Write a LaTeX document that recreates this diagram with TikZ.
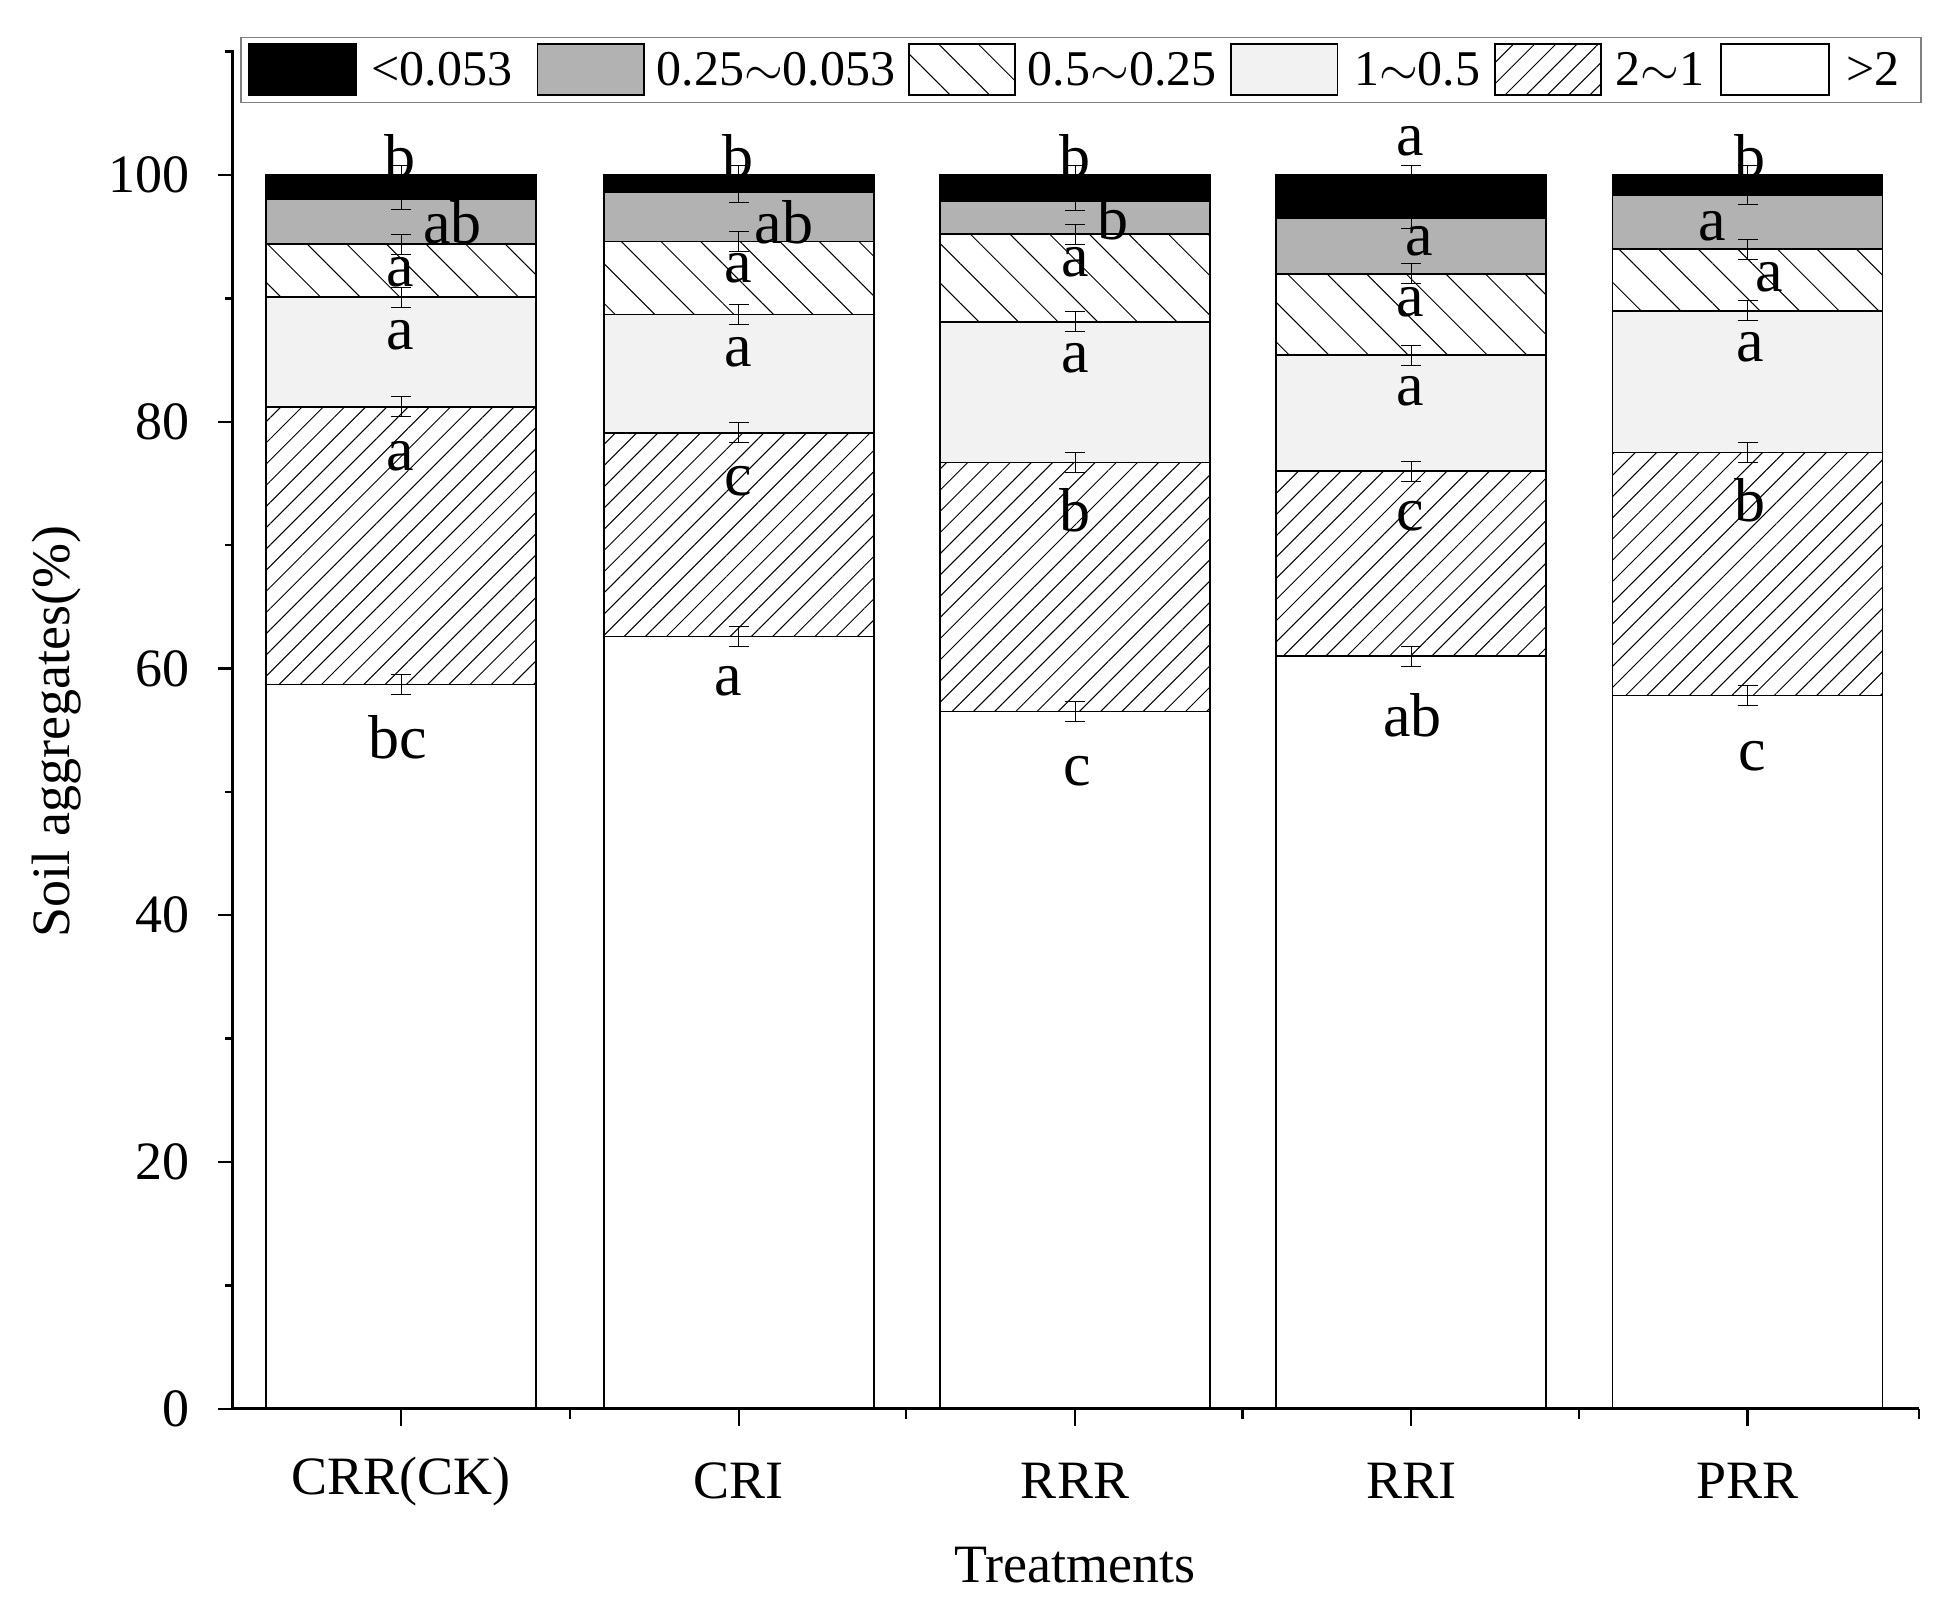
\documentclass[tikz,border=0pt]{standalone}
\usepackage{fontspec}
\setmainfont{Liberation Serif}
\usetikzlibrary{patterns.meta}
\begin{document}
\begin{tikzpicture}[x=0.625pt,y=-0.625pt,
  seg/.style={draw=black,line width=0.8pt},
  hatchA/.style={pattern={Lines[angle=45,distance=7.5pt,line width=0.5pt]}},
  hatchB/.style={pattern={Lines[angle=-45,distance=14pt,line width=0.5pt]}},
  lbl/.style={font=\fontsize{31}{31}\selectfont,inner sep=0pt},
  tkl/.style={font=\fontsize{27}{27}\selectfont,inner sep=0pt},
  leg/.style={font=\fontsize{25}{25}\selectfont,inner sep=0pt,anchor=west},
  eb/.style={line width=0.5pt}]
\useasboundingbox (0,0) rectangle (1552,1280);
\def\Yv#1{1127-9.87*#1}
% bars
\foreach \xc/\a/\b/\c/\d/\e in {321/58.7/81.2/90.1/94.4/98.0, 591/62.6/79.1/88.7/94.6/98.6, 860/56.5/76.7/88.1/95.2/97.9, 1129/61.0/76.0/85.4/92.0/96.5, 1398/57.8/77.5/89.0/94.0/98.4}{
  \draw[seg,fill=white] ({\xc-108},{\Yv{0}}) rectangle ({\xc+108},{\Yv{\a}});
  \draw[seg,hatchA] ({\xc-108},{\Yv{\a}}) rectangle ({\xc+108},{\Yv{\b}});
  \draw[seg,fill=gray!10] ({\xc-108},{\Yv{\b}}) rectangle ({\xc+108},{\Yv{\c}});
  \draw[seg,hatchB] ({\xc-108},{\Yv{\c}}) rectangle ({\xc+108},{\Yv{\d}});
  \draw[seg,fill=gray!60] ({\xc-108},{\Yv{\d}}) rectangle ({\xc+108},{\Yv{\e}});
  \draw[seg,fill=black] ({\xc-108},{\Yv{\e}}) rectangle ({\xc+108},{\Yv{100}});
  \foreach \v in {\a,\b,\c,\d,\e,100}{
    \draw[eb] (\xc,{\Yv{\v}-8}) -- (\xc,{\Yv{\v}+8});
    \draw[eb] (\xc-8,{\Yv{\v}-8}) -- (\xc+8,{\Yv{\v}-8});
    \draw[eb] (\xc-8,{\Yv{\v}+8}) -- (\xc+8,{\Yv{\v}+8});
  }
}
% letters
\foreach \x/\y/\t in {318/590/bc,320/365/a,320/268/a,320/218/a,362/178/ab,320/125/b,
  583/545/a,591/385/c,591/282/a,591/215/a,627/178/ab,590/125/b,
  862/617/c,860/408/b,860/287/a,860/210/a,890/175/b,860/125/b,
  1130/572/ab,1128/413/c,1128/313/a,1128/242/a,1135/193/a,1128/113/a,
  1402/605/c,1400/400/b,1400/278/a,1415/222/a,1370/181/a,1400/125/b}
  \node[lbl] at (\x,\y) {\t};
% axes
\draw[line width=1.6pt] (186,40) -- (186,1127) -- (1535,1127);
\foreach \v in {0,20,...,100}{
  \draw[line width=1.2pt] (186,{\Yv{\v}}) -- (174,{\Yv{\v}});
  \node[tkl,anchor=east] at (152,{\Yv{\v}}) {\v};
}
\foreach \v in {10,30,...,110}{
  \draw[line width=1.2pt] (186,{\Yv{\v}}) -- (180,{\Yv{\v}});
}
\foreach \x/\t in {321/CRR(CK),591/CRI,860/RRR,1129/RRI,1398/PRR}{
  \draw[line width=1.2pt] (\x,1127) -- (\x,1141);
  \node[tkl] at (\x,1185) {\t};
}
\foreach \x in {456,725,994,1263,1535}
  \draw[line width=1.2pt] (\x,1127) -- (\x,1135);
\node[tkl,rotate=90] at (45,585) {Soil aggregates(\%)};
\node[tkl] at (860,1252) {Treatments};
% legend
\draw[line width=0.8pt,draw=gray] (193,30) rectangle (1537,82);
\draw[seg,fill=black] (199,35) rectangle (285,76);
\node[leg] at (297,55) {<0.053};
\draw[seg,fill=gray!60] (430,35) rectangle (515,76);
\node[leg] at (525,55) {0.25$\sim$0.053};
\draw[seg,hatchB] (727,35) rectangle (812,76);
\node[leg] at (822,55) {0.5$\sim$0.25};
\draw[seg,fill=gray!10] (985,35) rectangle (1070,76);
\node[leg] at (1083,55) {1$\sim$0.5};
\draw[seg,hatchA] (1196,35) rectangle (1281,76);
\node[leg] at (1292,55) {2$\sim$1};
\draw[seg,fill=white] (1377,35) rectangle (1463,76);
\node[leg] at (1477,55) {>2};
\end{tikzpicture}
\end{document}
